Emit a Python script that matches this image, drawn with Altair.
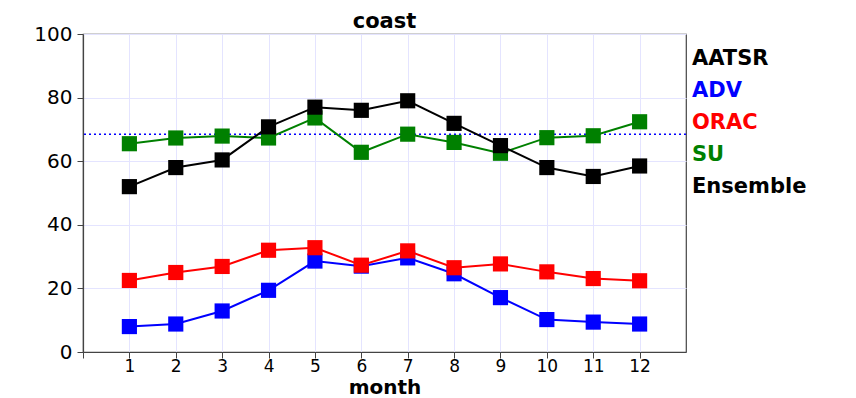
import altair as alt
import pandas as pd

months = list(range(1, 13))
adv = [8.0, 8.8, 12.9, 19.4, 28.6, 27.0, 29.6, 24.6, 17.1, 10.2, 9.4, 8.8]
orac = [22.5, 25.0, 26.9, 32.0, 32.8, 27.3, 31.8, 26.5, 27.7, 25.2, 23.1, 22.4]
su = [65.5, 67.3, 67.9, 67.3, 73.6, 62.8, 68.5, 65.9, 62.5, 67.4, 68.0, 72.4]
ensemble = [52.0, 58.0, 60.4, 70.8, 77.0, 76.0, 79.0, 71.9, 64.9, 58.0, 55.2, 58.5]
reference_level = [68.5]

series_names = ["ADV", "ORAC", "SU", "Ensemble"]
series_values = [adv, orac, su, ensemble]
series_colors = ["#0000ff", "#ff0000", "#008000", "#000000"]

legend_labels = ["AATSR", "ADV", "ORAC", "SU", "Ensemble"]
legend_colors = ["#000000", "#0000ff", "#ff0000", "#008000", "#000000"]

W, H = 603, 318
FONT = "DejaVu Sans"

xscale = alt.Scale(domain=[0, 13], nice=False, zero=False)
yscale = alt.Scale(domain=[0, 100], nice=False)

xaxis = alt.Axis(values=list(range(0, 13)), labelExpr="datum.value == 0 ? '' : datum.label",
                 title="month", grid=True, gridColor="#e4e4ff", gridWidth=1,
                 labelFont=FONT, titleFont=FONT,
                 labelFontSize=17, titleFontSize=20, titleFontWeight="bold",
                 titlePadding=3, labelPadding=0)
yaxis = alt.Axis(values=[0, 20, 40, 60, 80, 100], title=None, grid=True, gridColor="#e4e4ff",
                 gridWidth=1, labelFont=FONT, labelFontSize=20, labelPadding=5)

layers = []
for name, vals, col in zip(series_names, series_values, series_colors):
    df = pd.DataFrame({"month": months, "value": vals, "series": name})
    base = alt.Chart(df).encode(
        x=alt.X("month:Q", scale=xscale, axis=xaxis),
        y=alt.Y("value:Q", scale=yscale, axis=yaxis),
    )
    layers.append(base.mark_line(color=col, strokeWidth=2))
    layers.append(base.mark_square(color=col, size=230, opacity=1, filled=True))

ref_df = pd.DataFrame({"level": reference_level})
ref = alt.Chart(ref_df).mark_rule(color="#0000ff", strokeDash=[2, 3], strokeWidth=1.5).encode(
    y=alt.Y("level:Q", scale=yscale, axis=yaxis)
)

leg_df = pd.DataFrame({"label": legend_labels, "color": legend_colors})
legend = alt.Chart(leg_df).mark_text(
    align="left", baseline="middle", fontSize=21, fontWeight="bold", font=FONT
).encode(
    x=alt.value(W + 6),
    y=alt.Y("label:N", sort=legend_labels, axis=None,
            scale=alt.Scale(range=[25, 153], padding=0)),
    color=alt.Color("color:N", scale=None),
    text="label:N",
)

main = alt.layer(ref, *layers)
chart = alt.layer(main, legend).resolve_scale(y="independent").properties(
    width=W, height=H,
    title=alt.TitleParams("coast", fontSize=21, fontWeight="bold", font=FONT, offset=-8, color="black"),
    autosize=alt.AutoSizeParams(type="none"),
    padding={"left": 75, "top": 26, "right": 160, "bottom": 46},
).configure(background="white").configure_view(
    stroke="#444444", strokeWidth=1.2
).configure_axis(
    labelFont=FONT, titleFont=FONT, labelColor="black", titleColor="black",
    domainColor="#444444", tickColor="#444444", tickSize=6, domainWidth=1.2
)

chart.save("out.html", embed_options={"renderer": "svg", "actions": False})
